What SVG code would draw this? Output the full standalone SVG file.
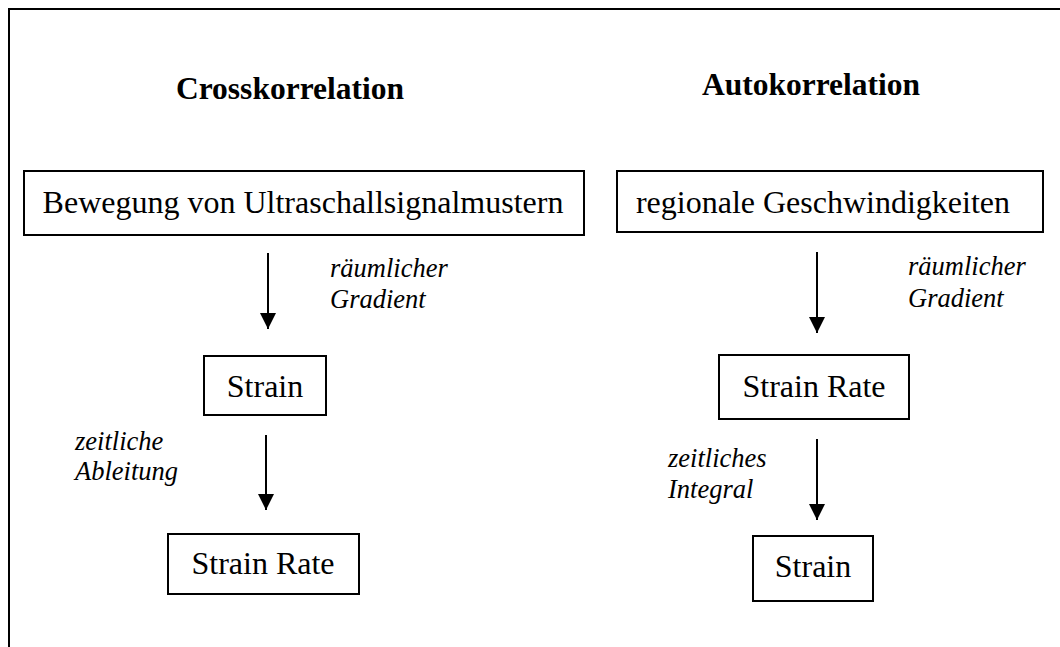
<svg xmlns="http://www.w3.org/2000/svg" width="1060" height="647" viewBox="0 0 1060 647">
<defs>
<style>
.frame{fill:none;stroke:#000;stroke-width:2}
.box{fill:#fff;stroke:#000;stroke-width:2}
.t{font-family:"Liberation Serif","Times New Roman",serif;font-size:32px;fill:#000}
.h{font-family:"Liberation Serif","Times New Roman",serif;font-size:31.5px;font-weight:bold;fill:#000}
.l{font-family:"Liberation Serif","Times New Roman",serif;font-size:26.5px;font-style:italic;fill:#000}
.c{stroke:#000;stroke-width:2;fill:none}
</style>
<marker id="ah" viewBox="0 0 16 16" refX="16" refY="8" markerWidth="16" markerHeight="16" markerUnits="userSpaceOnUse" orient="auto">
<path d="M0,0 L16,8 L0,16 Z" fill="#000"/>
</marker>
</defs>
<rect width="1060" height="647" fill="#fff"/>
<rect class="frame" x="9" y="9" width="1070" height="680"/>
<g id="headings">
<text class="h" x="290" y="99" text-anchor="middle">Crosskorrelation</text>
<text class="h" x="811" y="95" text-anchor="middle">Autokorrelation</text>
</g>
<g id="node-bewegung">
<rect class="box" x="24" y="171" width="560" height="64"/>
<text class="t" x="303" y="213" text-anchor="middle">Bewegung von Ultraschallsignalmustern</text>
</g>
<g id="node-regional">
<rect class="box" x="617" y="171" width="426" height="61"/>
<text class="t" x="823" y="213" text-anchor="middle">regionale Geschwindigkeiten</text>
</g>
<g id="node-strain-left">
<rect class="box" x="204" y="356" width="122" height="59"/>
<text class="t" x="265" y="397" text-anchor="middle">Strain</text>
</g>
<g id="node-strainrate-right">
<rect class="box" x="719" y="355" width="190" height="64"/>
<text class="t" x="814" y="397" text-anchor="middle">Strain Rate</text>
</g>
<g id="node-strainrate-left">
<rect class="box" x="168" y="534" width="191" height="60"/>
<text class="t" x="263" y="574" text-anchor="middle">Strain Rate</text>
</g>
<g id="node-strain-right">
<rect class="box" x="753" y="536" width="120" height="65"/>
<text class="t" x="813" y="577" text-anchor="middle">Strain</text>
</g>
<g id="connectors">
<line class="c" x1="268" y1="253" x2="268" y2="329" marker-end="url(#ah)"/>
<line class="c" x1="817" y1="252" x2="817" y2="333" marker-end="url(#ah)"/>
<line class="c" x1="266" y1="435" x2="266" y2="510" marker-end="url(#ah)"/>
<line class="c" x1="817" y1="439" x2="817" y2="520" marker-end="url(#ah)"/>
</g>
<g id="labels">
<text class="l" x="330" y="277">räumlicher</text>
<text class="l" x="330" y="308">Gradient</text>
<text class="l" x="908" y="275">räumlicher</text>
<text class="l" x="908" y="307">Gradient</text>
<text class="l" x="75" y="450">zeitliche</text>
<text class="l" x="75" y="480">Ableitung</text>
<text class="l" x="668" y="467">zeitliches</text>
<text class="l" x="668" y="498">Integral</text>
</g>
</svg>
